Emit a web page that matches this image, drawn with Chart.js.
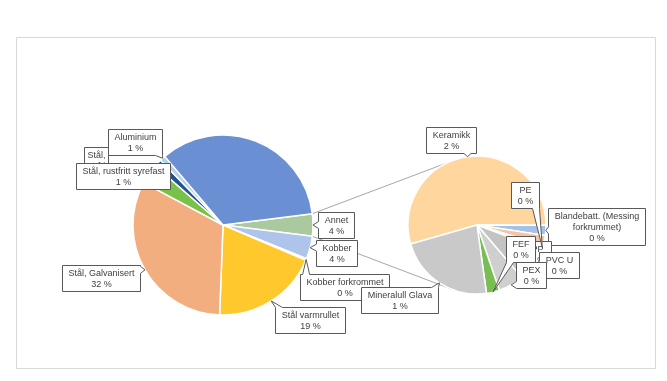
<!DOCTYPE html>
<html lang="no">
<head>
<meta charset="utf-8">
<title>Materialfordeling</title>
<script src="https://cdn.jsdelivr.net/npm/chart.js@4.4.1/dist/chart.umd.min.js"></script>
<style>
    html, body { margin: 0; padding: 0; background: #fff; }
    #wrap { position: relative; width: 667px; height: 381px; overflow: hidden; }
    #frame { position: absolute; left: 16px; top: 37px; width: 638px; height: 330px; border: 1px solid #d9d9d9; }
    canvas { position: absolute; left: 0; top: 0; }
</style>
</head>
<body>
<div id="wrap">
    <div id="frame"></div>
    <canvas id="mainPie" width="667" height="381"></canvas>
    <canvas id="subPie" width="667" height="381"></canvas>
</div>
<script>
// Main pie (share of total, %) - "Annet" is the slice broken out in the small pie
const mainLabels = ['Annet', 'Kobber', 'Kobber forkrommet', 'Stål varmrullet', 'Stål, Galvanisert',
    'Stål, rustfritt', 'Stål, rustfritt syrefast', 'Aluminium', 'Stål'];
const mainValues = [4.0, 4.1, 0.3, 19.2, 32.2, 3.6, 1.4, 1.0, 34.2];
const mainColors = ['#abc99e', '#aec4ea', '#f4c6a5', '#ffc92e', '#f3ae80',
    '#78c24a', '#1f568c', '#b4d0ee', '#6b8fd3'];

// Secondary pie (also share of total, %) - sums to Annet
const subLabels = ['Keramikk', 'Blandebatt. (Messing forkrummet)', 'PP', 'PE', 'PVC U', 'PEX', 'FEF', 'Mineralull Glava'];
const subValues = [2.18, 0.094, 0.094, 0.04, 0.32, 0.24, 0.122, 0.91];
const subColors = ['#ffd79e', '#a6c1e8', '#f6c3a4', '#dadada', '#c3c3c3', '#cfcfcf', '#79be55', '#c9c9c9'];

// Callout box centres, relative to the pie centre (null = no label shown)
// optional third entry = fixed box width
const mainLabelOffsets = [[113, -0.5], [113, 27.5], [121, 62], [87, 95], [-122, 52.5],
    [-127, -59.5, 24], [-100.5, -49], [-88, -83.5], null];
const subLabelOffsets = [[-26, -85.5], [119.5, 1.5], [59.5, 29], [48, -30], [82, 40],
    [53.5, 50], [43.5, 24], [-78, 75]];

const LABEL_FONT = "9px 'Liberation Sans', Arial, sans-serif";
const LINE_H = 11;

function clamp(v, lo, hi) { return Math.max(lo, Math.min(hi, v)); }

// Rectangle with a wedge pointing to (ax, ay), like Excel's callout labels
function calloutPath(ctx, x0, y0, x1, y1, ax, ay) {
    const out = { left: x0 - ax, right: ax - x1, top: y0 - ay, bottom: ay - y1 };
    let side = null, best = 1.5;
    for (const k in out) if (out[k] > best) { best = out[k]; side = k; }
    const w = 3.5;
    ctx.beginPath();
    ctx.moveTo(x0, y0);
    if (side === 'top') { const c = clamp(ax, x0 + w, x1 - w); ctx.lineTo(c - w, y0); ctx.lineTo(ax, ay); ctx.lineTo(c + w, y0); }
    ctx.lineTo(x1, y0);
    if (side === 'right') { const c = clamp(ay, y0 + w, y1 - w); ctx.lineTo(x1, c - w); ctx.lineTo(ax, ay); ctx.lineTo(x1, c + w); }
    ctx.lineTo(x1, y1);
    if (side === 'bottom') { const c = clamp(ax, x0 + w, x1 - w); ctx.lineTo(c + w, y1); ctx.lineTo(ax, ay); ctx.lineTo(c - w, y1); }
    ctx.lineTo(x0, y1);
    if (side === 'left') { const c = clamp(ay, y0 + w, y1 - w); ctx.lineTo(x0, c + w); ctx.lineTo(ax, ay); ctx.lineTo(x0, c - w); }
    ctx.closePath();
}

function wrapText(ctx, text, maxW) {
    const words = text.split(' ');
    const lines = [];
    let cur = '';
    words.forEach(wd => {
        const test = cur ? cur + ' ' + wd : wd;
        if (cur && ctx.measureText(test).width > maxW) { lines.push(cur); cur = wd; }
        else cur = test;
    });
    if (cur) lines.push(cur);
    return lines;
}

function drawCallouts(chart, names, values, offsets) {
    const ctx = chart.ctx;
    const arcs = chart.getDatasetMeta(0).data;
    ctx.save();
    ctx.font = LABEL_FONT;
    ctx.textAlign = 'center';
    ctx.textBaseline = 'middle';
    names.forEach((name, i) => {
        const off = offsets[i];
        if (!off) return;
        const arc = arcs[i];
        const mid = (arc.startAngle + arc.endAngle) / 2;
        const ax = arc.x + Math.cos(mid) * arc.outerRadius;
        const ay = arc.y + Math.sin(mid) * arc.outerRadius;

        const fixedW = off[2];
        const lines = wrapText(ctx, name, fixedW ? fixedW - 12 : 96).concat([Math.round(values[i]) + ' %']);
        const w = fixedW || Math.round(Math.max(...lines.map(l => ctx.measureText(l).width)) + 12);
        const h = lines.length * LINE_H + 4;
        const cx = arc.x + off[0], cy = arc.y + off[1];
        const x0 = Math.round(cx - w / 2) + 0.5, y0 = Math.round(cy - h / 2) + 0.5;

        calloutPath(ctx, x0, y0, x0 + w, y0 + h, ax, ay);
        ctx.fillStyle = '#ffffff';
        ctx.fill();
        ctx.strokeStyle = '#595959';
        ctx.lineWidth = 1;
        ctx.stroke();

        ctx.fillStyle = '#404040';
        lines.forEach((l, k) => ctx.fillText(l, x0 + w / 2, y0 + 2 + LINE_H * k + LINE_H / 2 + 0.5));
    });
    ctx.restore();
}

function pieOptions(padding, radius, rotation) {
    return {
        responsive: false,
        animation: false,
        devicePixelRatio: 1,
        rotation: rotation,
        radius: radius,
        layout: { padding: padding },
        events: [],
        plugins: { legend: { display: false }, tooltip: { enabled: false } }
    };
}

// Secondary pie first, so the main pie can draw the joining lines to it
const subChart = new Chart(document.getElementById('subPie'), {
    type: 'pie',
    data: {
        labels: subLabels,
        datasets: [{ data: subValues, backgroundColor: subColors, borderColor: '#ffffff', borderWidth: 1.5 }]
    },
    options: pieOptions({ left: 300, right: 13, top: 79, bottom: 10 }, 69, 254),
    plugins: [{
        id: 'subCallouts',
        afterDatasetsDraw(chart) { drawCallouts(chart, subLabels, subValues, subLabelOffsets); }
    }]
});

const mainTotal = mainValues.reduce((a, b) => a + b, 0);

const mainChart = new Chart(document.getElementById('mainPie'), {
    type: 'pie',
    data: {
        labels: mainLabels,
        datasets: [{ data: mainValues, backgroundColor: mainColors, borderColor: '#ffffff', borderWidth: 1.5 }]
    },
    // centre the "Annet" slice at 3 o'clock
    options: pieOptions({ left: 13, right: 234, top: 79, bottom: 10 }, 90, 90 - mainValues[0] / mainTotal * 180),
    plugins: [{
        id: 'pieOfPieLines',
        beforeDatasetsDraw(chart) {
            const other = chart.getDatasetMeta(0).data[0];
            const sub = subChart.getDatasetMeta(0).data[0];
            const toRad = d => (d - 90) * Math.PI / 180;
            const ends = [
                [other.startAngle, toRad(334)],
                [other.endAngle, toRad(201)]
            ];
            const ctx = chart.ctx;
            ctx.save();
            ctx.strokeStyle = '#a6a6a6';
            ctx.lineWidth = 1;
            ends.forEach(([a, b]) => {
                ctx.beginPath();
                ctx.moveTo(other.x + Math.cos(a) * other.outerRadius, other.y + Math.sin(a) * other.outerRadius);
                ctx.lineTo(sub.x + Math.cos(b) * sub.outerRadius, sub.y + Math.sin(b) * sub.outerRadius);
                ctx.stroke();
            });
            ctx.restore();
        },
        afterDatasetsDraw(chart) { drawCallouts(chart, mainLabels, mainValues, mainLabelOffsets); }
    }]
});
</script>
</body>
</html>
